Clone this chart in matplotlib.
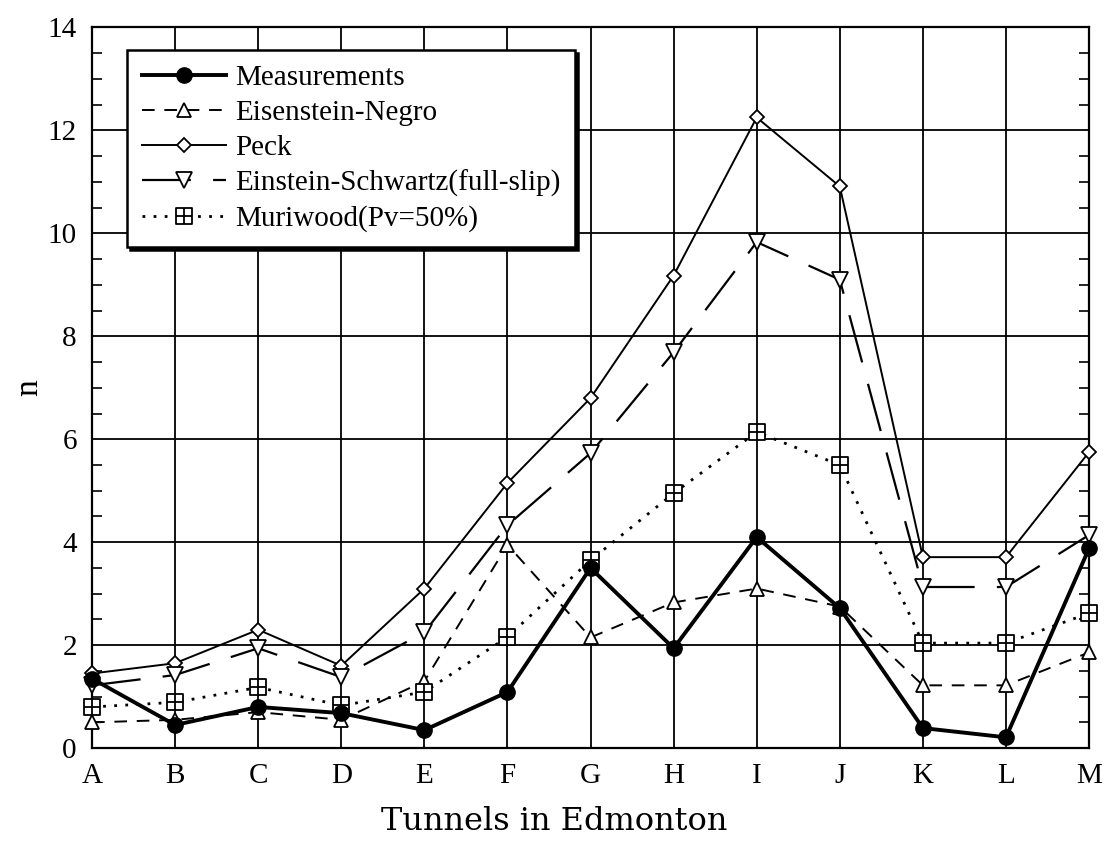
import numpy as np
import matplotlib
matplotlib.use("Agg")
import matplotlib.pyplot as plt
from matplotlib.path import Path
from matplotlib.ticker import MultipleLocator

tunnels = ["A", "B", "C", "D", "E", "F", "G", "H", "I", "J", "K", "L", "M"]

measurements = [1.35, 0.45, 0.8, 0.68, 0.35, 1.09, 3.5, 1.94, 4.1, 2.72, 0.39, 0.21, 3.88]
eisenstein_negro = [0.5, 0.55, 0.7, 0.55, 1.3, 3.95, 2.15, 2.83, 3.1, 2.75, 1.22, 1.22, 1.86]
peck = [1.45, 1.65, 2.3, 1.6, 3.1, 5.15, 6.8, 9.18, 12.25, 10.91, 3.71, 3.71, 5.75]
einstein_schwartz = [1.22, 1.42, 1.94, 1.38, 2.25, 4.33, 5.73, 7.69, 9.83, 9.1, 3.13, 3.13, 4.14]
muriwood = [0.8, 0.89, 1.18, 0.83, 1.09, 2.16, 3.65, 4.95, 6.14, 5.5, 2.04, 2.04, 2.62]

plt.rcParams["font.family"] = ["Liberation Serif", "DejaVu Serif"]

# boxed plus marker
boxplus = Path(
    [(-1, -1), (1, -1), (1, 1), (-1, 1), (-1, -1), (-1, 0), (1, 0), (0, -1), (0, 1)],
    [Path.MOVETO, Path.LINETO, Path.LINETO, Path.LINETO, Path.CLOSEPOLY,
     Path.MOVETO, Path.LINETO, Path.MOVETO, Path.LINETO],
)

fig = plt.figure(figsize=(11.09, 8.56), dpi=100)
ax = fig.add_axes([0.083, 0.126, 0.899, 0.842])
x = np.arange(len(tunnels))

ax.plot(x, eisenstein_negro, color="black", lw=1.4, dashes=(6.5, 5), marker="^",
        ms=10, mfc="white", mec="black", mew=1.3, label="Eisenstein-Negro",
        zorder=3, clip_on=False)
ax.plot(x, peck, color="black", lw=1.4, marker="D", ms=7.5, mfc="white", mec="black",
        mew=1.3, label="Peck", zorder=3, clip_on=False)
ax.plot(x, einstein_schwartz, color="black", lw=1.6, dashes=(22, 10), marker="v",
        ms=11, mfc="white", mec="black", mew=1.3, label="Einstein-Schwartz(full-slip)",
        zorder=3, clip_on=False)
ax.plot(x, muriwood, color="black", lw=2, dashes=(1, 3), marker=boxplus, ms=11,
        mfc="white", mec="black", mew=1.3, label="Muriwood(Pv=50%)",
        zorder=3, clip_on=False)
ax.plot(x, measurements, color="black", lw=2.8, marker="o", ms=11, mfc="black",
        mec="black", label="Measurements", zorder=4, clip_on=False)

ax.set_xlim(0, 12)
ax.set_ylim(0, 14)
ax.set_xticks(x)
ax.set_xticklabels(tunnels)
ax.set_yticks(np.arange(0, 15, 2))
ax.yaxis.set_minor_locator(MultipleLocator(0.5))
ax.tick_params(axis="both", which="major", length=0, labelsize=21, pad=11)
ax.tick_params(axis="y", which="minor", direction="in", length=7, width=1.2,
               left=True, right=True)
ax.grid(True, which="major", color="black", lw=1.3)
for s in ax.spines.values():
    s.set_linewidth(1.6)

ax.set_ylabel("n", fontsize=24)
ax.yaxis.set_label_coords(-0.048, 0.5)
ax.set_xlabel("Tunnels in Edmonton", fontsize=23, family=["DejaVu Serif"])
ax.xaxis.set_label_coords(0.464, -0.08)

h, l = ax.get_legend_handles_labels()
order = [4, 0, 1, 2, 3]
leg = ax.legend([h[i] for i in order], [l[i] for i in order], loc="upper left",
                bbox_to_anchor=(0.035, 0.968), fontsize=21, frameon=True, fancybox=False,
                edgecolor="black", shadow={"color": "black", "alpha": 1},
                handlelength=2.9, borderpad=0.5, labelspacing=0.29, handletextpad=0.3,
                borderaxespad=0)
leg.get_frame().set_linewidth(1.8)
leg.get_frame().set_alpha(1)

fig.savefig("out.png", dpi=100)
